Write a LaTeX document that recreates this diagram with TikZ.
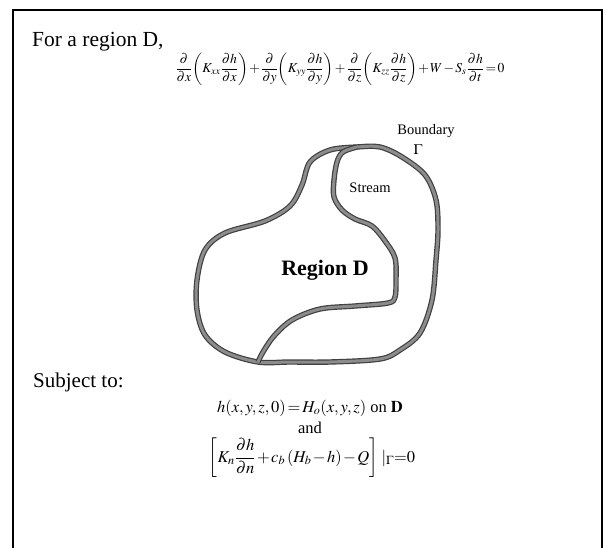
\documentclass[tikz,border=0pt]{standalone}
\usepackage{amsmath,amssymb}
\usepackage{mathptmx}
\usepackage{fontspec}
\setmainfont{Liberation Serif}
\usetikzlibrary{positioning}

\newcommand{\tightmath}{\medmuskip=1.5mu\thickmuskip=2mu}

\begin{document}
\begin{tikzpicture}[
  x=1pt, y=-1pt,
  every node/.style={inner sep=0pt, align=center},
  bigtext/.style={font=\fontsize{21}{25}\selectfont},
  eqtext/.style={font=\fontsize{16.5}{19}\selectfont\tightmath},
  smalltext/.style={font=\fontsize{14.5}{17}\selectfont},
  curve/.style={draw=black!75, double=black!45, double distance=3pt,
    line width=1.2pt, line join=round}
]
\useasboundingbox (0,0) rectangle (604,548);
\draw[line width=1.5pt] (13,548) |- (602,10) -- (602,548);

\node[bigtext, font=\fontsize{21.5}{25}\selectfont, anchor=base west] (intro) at (32,47) {For a region D,};
\node[eqtext, font=\fontsize{13.6}{16}\selectfont\tightmath] (pde) at (340,69)
  {$\dfrac{\partial}{\partial x}\!\left(K_{xx}\dfrac{\partial h}{\partial x}\right)
   +\dfrac{\partial}{\partial y}\!\left(K_{yy}\dfrac{\partial h}{\partial y}\right)
   +\dfrac{\partial}{\partial z}\!\left(K_{zz}\dfrac{\partial h}{\partial z}\right)
   +W-S_s\dfrac{\partial h}{\partial t}=0$};

\draw[curve] plot[smooth cycle, tension=0.55] coordinates {
  (357,147) (380,147) (402,157) (425,175) (436,200) (438,230) (436,260)
  (432,300) (420,333) (400,350) (380,359) (330,362) (290,362) (258,362)
  (225,352) (205,335) (197,310) (197,280) (205,250) (225,233) (265,221)
  (290,206) (302,185) (310,162) (330,150)};
\draw[curve] plot[smooth, tension=0.55] coordinates {
  (357,147) (343,152) (337,162) (334,180) (334,197) (342,210) (355,219)
  (372,226) (385,241) (395,258) (396,280) (395,297) (388,303) (355,306)
  (320,309) (292,320) (274,336) (263,352) (258,362)};

\node[smalltext] (bnd) at (426,131) {Boundary};
\node[smalltext] (gam) at (418,150) {$\Gamma$};
\node[smalltext] (stream) at (370,188) {Stream};
\node[font=\fontsize{22}{26}\selectfont\bfseries] (region) at (325,270) {Region D};

\node[bigtext, anchor=base west] (subj) at (33,387) {Subject to:};
\node[eqtext] (init) at (310,408)
  {$h(x,y,z,0)=H_o(x,y,z)$ on $\mathbf{D}$};
\node[eqtext, below=5pt of init] (and) {and};
\node[eqtext] (bc) at (312,458)
  {$\left[K_n\dfrac{\partial h}{\partial n}+c_b\left(H_b-h\right)-Q\right]\;|_{\Gamma}{=}0$};
\end{tikzpicture}
\end{document}
